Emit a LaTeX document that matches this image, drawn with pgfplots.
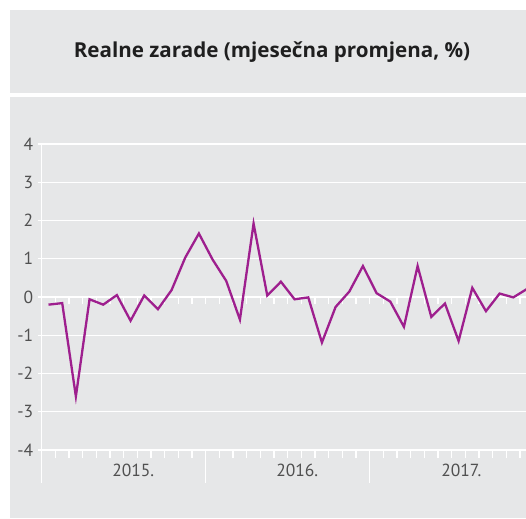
\documentclass[border=0pt]{standalone}
\usepackage{pgfplots}
\pgfplotsset{compat=1.18}
\usepackage{fontspec}
\setmainfont{PT Sans}
\newfontfamily\titlefont{Open Sans}
\definecolor{bg}{HTML}{E6E7E8}
\definecolor{linec}{HTML}{9E1F8E}
\definecolor{lbl}{HTML}{505050}
\pgfplotstableread{
x y
0.5 -0.20
1.5 -0.16
2.5 -2.60
3.5 -0.06
4.5 -0.20
5.5 0.05
6.5 -0.62
7.5 0.04
8.5 -0.32
9.5 0.18
10.5 1.03
11.5 1.66
12.5 0.98
13.5 0.42
14.5 -0.59
15.5 1.92
16.5 0.04
17.5 0.40
18.5 -0.06
19.5 -0.01
20.5 -1.19
21.5 -0.26
22.5 0.14
23.5 0.81
24.5 0.10
25.5 -0.12
26.5 -0.78
27.5 0.81
28.5 -0.52
29.5 -0.17
30.5 -1.15
31.5 0.24
32.5 -0.37
33.5 0.09
34.5 -0.01
35.5 0.21
}\wages
\begin{document}
\begin{tikzpicture}[x=1pt,y=1pt]
\useasboundingbox (0,0) rectangle (526,518);
\fill[white] (0,0) rectangle (526,518);
\fill[bg] (10,0) rectangle (526,421);
\fill[bg] (10,425) rectangle (526,508);
\node[font=\titlefont\bfseries\fontsize{20.6}{22}\selectfont, text=black!88] at (272,466) {Realne zarade (mjesečna promjena, \%)};
\begin{axis}[
  at={(41.7pt,68pt)}, anchor=south west,
  scale only axis, width=484.3pt, height=306pt,
  xmin=0, xmax=35.43, ymin=-4, ymax=4,
  axis lines=left,
  axis line style={white, line width=1.4pt, -},
  ytick={-4,-3,...,4},
  ymajorgrids,
  grid style={white, line width=1.4pt},
  xtick={6,18,30},
  xticklabels={2015.,2016.,2017.},
  minor xtick={1,...,35},
  tick align=outside,
  major tick length=4pt,
  minor tick length=8pt,
  x tick style={draw=none},
  minor x tick style={draw=white, line width=1.4pt},
  y tick style={white, line width=1.4pt},
  xtick pos=bottom, ytick pos=left,
  tick label style={font=\fontsize{17.5}{18}\selectfont, text=lbl},
  /pgf/number format/assume math mode=true,
  yticklabel={\pgfmathprintnumber[assume math mode=true]{\tick}},
  xticklabel style={yshift=-7pt, xshift=9.5pt},
  yticklabel style={xshift=-1pt},
  clip=true,
]
\pgfplotsinvokeforeach{1,...,35}{\draw[white, line width=1.4pt] (axis cs:#1,0) -- ([yshift=-7pt]axis cs:#1,0);}
\addplot[linec, line width=2.3pt, line join=miter] table[x=x,y=y]{\wages};
\end{axis}
% year separators and axis extension
\begin{scope}[white, line width=1.4pt]
\draw (41.7,68) -- (41.7,35);
\draw (41.7+12*13.67,68) -- (41.7+12*13.67,35);
\draw (41.7+24*13.67,68) -- (41.7+24*13.67,35);
\end{scope}
\end{tikzpicture}
\end{document}
